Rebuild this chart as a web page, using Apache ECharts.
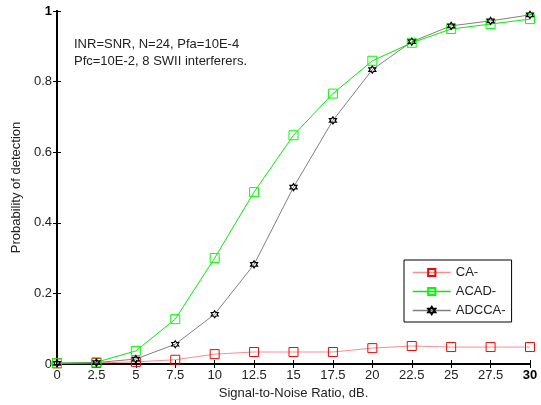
<!DOCTYPE html>
<html><head><meta charset="utf-8">
<script src="https://cdn.jsdelivr.net/npm/echarts@6/dist/echarts.min.js"></script>
<style>html,body{margin:0;padding:0;background:#fff}#c{width:541px;height:405px}</style>
</head><body><div id="c"></div>
<script>
var snr = [0, 2.5, 5, 7.5, 10, 12.5, 15, 17.5, 20, 22.5, 25, 27.5, 30];
var xTickLabels = ['0','2.5','5','7.5','10','12.5','15','17.5','20','22.5','25','27.5','30'];
var yTickLabels = ['0','0.2','0.4','0.6','0.8','1'];
var caValues    = [0.002, 0.003, 0.006, 0.012, 0.028, 0.034, 0.034, 0.034, 0.045, 0.051, 0.048, 0.048, 0.048];
var acadValues  = [0.002, 0.005, 0.037, 0.127, 0.300, 0.487, 0.648, 0.766, 0.859, 0.910, 0.949, 0.963, 0.977];
var adccaValues = [0.002, 0.004, 0.014, 0.056, 0.141, 0.282, 0.501, 0.690, 0.834, 0.913, 0.958, 0.972, 0.989];
var seriesNames = ['CA-', 'ACAD-', 'ADCCA-'];

var FONT = '"Liberation Sans", Arial, sans-serif';
var hexagram = 'path://M0,-10 L2.887,-5 L8.66,-5 L5.774,0 L8.66,5 L2.887,5 L0,10 L-2.887,5 L-8.66,5 L-5.774,0 L-8.66,-5 L-2.887,-5 Z';
function pairs(v){ return snr.map(function(x,i){ return [x, v[i]]; }); }

var chart = echarts.init(document.getElementById('c'));
var xLabelMap = {}; snr.forEach(function(x,i){ xLabelMap[x] = xTickLabels[i]; });
var yVals = [0,0.2,0.4,0.6,0.8,1];
var yLabelMap = {}; yVals.forEach(function(v,i){ yLabelMap[v.toFixed(1)] = yTickLabels[i]; });

chart.setOption({
  animation: false,
  backgroundColor: '#fff',
  textStyle: { fontFamily: FONT },
  grid: { left: 57, right: 11, top: 11, bottom: 39 },
  xAxis: [{
    type: 'value', min: 0, max: 30, interval: 2.5,
    name: 'Signal-to-Noise Ratio, dB.', nameLocation: 'middle', nameGap: 23,
    nameTextStyle: { color: '#222', fontSize: 13, fontFamily: FONT },
    axisLine: { lineStyle: { color: '#000', width: 2 } },
    axisTick: { inside: true, length: 4, lineStyle: { color: '#000' } },
    axisLabel: { color: '#222', fontSize: 13, margin: 5, fontFamily: FONT,
      formatter: function(v){ var s = xLabelMap[v] !== undefined ? xLabelMap[v] : ''; return v === 30 ? '{b|' + s + '}' : s; },
      rich: { b: { fontWeight: 'bold', fontSize: 13, color: '#000', fontFamily: FONT } } },
    splitLine: { show: false }
  }, {
    type: 'value', min: 0, max: 30, interval: 2.5, position: 'top',
    axisLine: { lineStyle: { color: '#000', width: 1.5 } },
    axisTick: { inside: true, length: 4, lineStyle: { color: '#000' } },
    axisLabel: { show: false }, splitLine: { show: false }
  }],
  yAxis: [{
    type: 'value', min: 0, max: 1, interval: 0.2,
    name: 'Probability of detection', nameLocation: 'middle', nameGap: 28,
    nameTextStyle: { color: '#222', fontSize: 13, fontFamily: FONT },
    axisLine: { show: true, lineStyle: { color: '#000', width: 2 } },
    axisTick: { show: true, inside: true, length: 4, lineStyle: { color: '#000' } },
    axisLabel: { color: '#222', fontSize: 13, margin: 5, fontFamily: FONT,
      formatter: function(v){ var k = v.toFixed(1); var s = yLabelMap[k] !== undefined ? yLabelMap[k] : ''; return v === 1 ? '{b|' + s + '}' : s; },
      rich: { b: { fontWeight: 'bold', fontSize: 13, color: '#000', fontFamily: FONT } } },
    splitLine: { show: false }
  }, {
    type: 'value', min: 0, max: 1, interval: 0.2, position: 'right',
    axisLine: { show: true, lineStyle: { color: '#000', width: 2 } },
    axisTick: { show: true, inside: true, length: 4, lineStyle: { color: '#000' } },
    axisLabel: { show: false }, splitLine: { show: false }
  }],
  legend: {
    orient: 'vertical', left: 404, top: 260,
    backgroundColor: '#fff', borderColor: '#000', borderWidth: 1, borderRadius: 0,
    padding: [6, 6, 5, 8], itemGap: 6, itemWidth: 38, itemHeight: 9,
    lineStyle: { width: 1.5 },
    textStyle: { color: '#222', fontSize: 13, fontFamily: FONT, padding: [0, 6, 0, 0] },
    data: seriesNames
  },
  graphic: [{
    type: 'text', left: 74, top: 36,
    style: { text: 'INR=SNR, N=24, Pfa=10E-4\nPfc=10E-2, 8 SWII interferers.',
      font: '13px ' + FONT, fill: '#222', lineHeight: 17 }
  }],
  series: [{
    name: seriesNames[0], type: 'line', data: pairs(caValues),
    symbol: 'rect', symbolSize: 9, showAllSymbol: true,
    lineStyle: { color: '#ff8c8c', width: 1 },
    itemStyle: { color: 'rgba(0,0,0,0)', borderColor: '#ff0000', borderWidth: 1 },
    z: 2
  }, {
    name: seriesNames[1], type: 'line', data: pairs(acadValues),
    symbol: 'rect', symbolSize: 9, showAllSymbol: true,
    lineStyle: { color: '#00ee00', width: 1 },
    itemStyle: { color: 'rgba(0,0,0,0)', borderColor: '#00ff00', borderWidth: 1 },
    z: 3
  }, {
    name: seriesNames[2], type: 'line', data: pairs(adccaValues),
    symbol: hexagram, symbolSize: 7, showAllSymbol: true,
    lineStyle: { color: '#808080', width: 1 },
    itemStyle: { color: 'rgba(0,0,0,0)', borderColor: '#000', borderWidth: 1.2 },
    z: 4
  }]
});
</script></body></html>
